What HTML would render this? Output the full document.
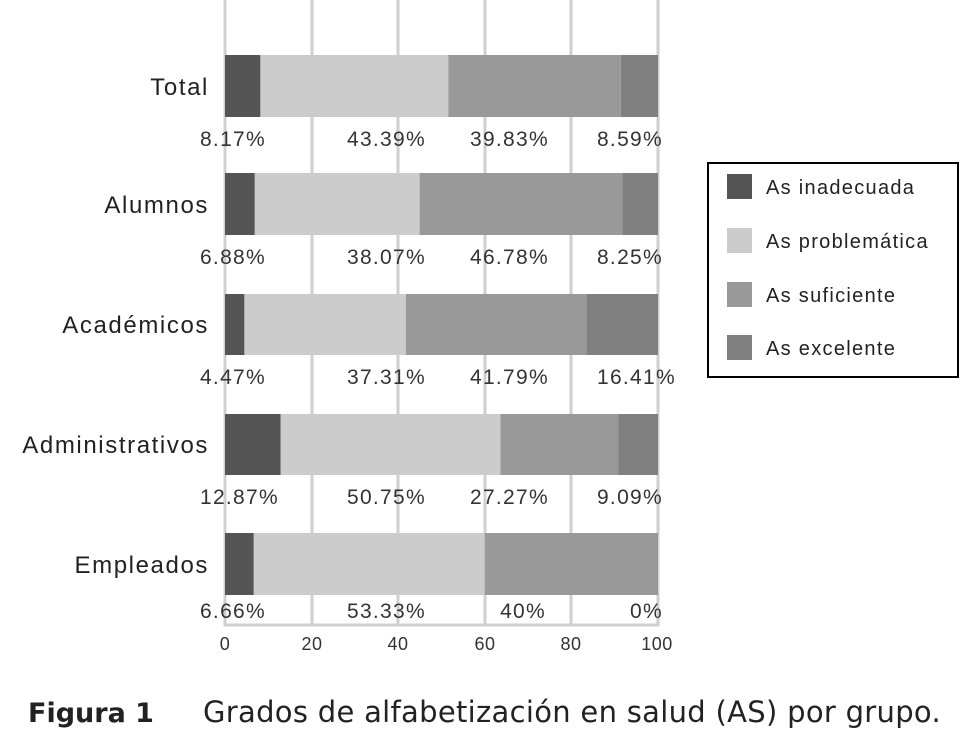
<!DOCTYPE html>
<html><head><meta charset="utf-8"><style>body{margin:0;background:#fff}svg{display:block}</style></head>
<body>
<svg width="971" height="746" xmlns="http://www.w3.org/2000/svg" font-family="Liberation Sans, sans-serif">
<rect width="971" height="746" fill="#fff"/>
<g stroke="#cfcfcf" stroke-width="3">
<line x1="225" y1="0" x2="225" y2="626"/><line x1="312" y1="0" x2="312" y2="626"/><line x1="398" y1="0" x2="398" y2="626"/>
<line x1="485" y1="0" x2="485" y2="626"/><line x1="571" y1="0" x2="571" y2="626"/><line x1="658" y1="0" x2="658" y2="626"/>
<line x1="224" y1="625" x2="659" y2="625"/>
</g>
<g font-size="18" fill="#333" text-anchor="middle" letter-spacing="0.5">
<text x="225" y="650">0</text><text x="312" y="650">20</text><text x="398" y="650">40</text><text x="485" y="650">60</text><text x="571" y="650">80</text><text x="657" y="650">100</text>
</g>
<g>
<rect x="225" y="55" width="35.4" height="62" fill="#555"/><rect x="260.4" y="55" width="187.9" height="62" fill="#ccc"/><rect x="448.3" y="55" width="172.5" height="62" fill="#999"/><rect x="620.8" y="55" width="37.2" height="62" fill="#808080"/>
<rect x="225" y="173" width="29.8" height="62" fill="#555"/><rect x="254.8" y="173" width="164.8" height="62" fill="#ccc"/><rect x="419.6" y="173" width="202.6" height="62" fill="#999"/><rect x="622.2" y="173" width="35.8" height="62" fill="#808080"/>
<rect x="225" y="294" width="19.4" height="61" fill="#555"/><rect x="244.4" y="294" width="161.6" height="61" fill="#ccc"/><rect x="406" y="294" width="181" height="61" fill="#999"/><rect x="587" y="294" width="71" height="61" fill="#808080"/>
<rect x="225" y="414" width="55.7" height="61" fill="#555"/><rect x="280.7" y="414" width="219.7" height="61" fill="#ccc"/><rect x="500.4" y="414" width="118.1" height="61" fill="#999"/><rect x="618.5" y="414" width="39.5" height="61" fill="#808080"/>
<rect x="225" y="533" width="28.8" height="62" fill="#555"/><rect x="253.8" y="533" width="230.9" height="62" fill="#ccc"/><rect x="484.7" y="533" width="173.3" height="62" fill="#999"/>
</g>
<g font-size="24" fill="#222" text-anchor="end" letter-spacing="1.6">
<text x="209" y="95">Total</text><text x="209" y="213">Alumnos</text><text x="209" y="333">Académicos</text><text x="209" y="453">Administrativos</text><text x="209" y="573">Empleados</text>
</g>
<g font-size="21" fill="#333" text-anchor="end" letter-spacing="1.3">
<text x="266" y="146">8.17%</text><text x="426" y="146">43.39%</text><text x="549" y="146">39.83%</text><text x="663" y="146">8.59%</text>
<text x="266" y="264">6.88%</text><text x="426" y="264">38.07%</text><text x="549" y="264">46.78%</text><text x="663" y="264">8.25%</text>
<text x="266" y="384">4.47%</text><text x="426" y="384">37.31%</text><text x="549" y="384">41.79%</text><text x="676" y="384">16.41%</text>
<text x="279" y="504">12.87%</text><text x="426" y="504">50.75%</text><text x="549" y="504">27.27%</text><text x="663" y="504">9.09%</text>
<text x="266" y="618">6.66%</text><text x="426" y="618">53.33%</text><text x="546" y="618">40%</text><text x="663" y="618">0%</text>
</g>
<rect x="708" y="163" width="250" height="214" fill="#fff" stroke="#000" stroke-width="2"/>
<rect x="727" y="174" width="25" height="25" fill="#555"/><rect x="727" y="228" width="25" height="25" fill="#ccc"/>
<rect x="727" y="282" width="25" height="25" fill="#999"/><rect x="727" y="335" width="25" height="25" fill="#808080"/>
<g font-size="20" fill="#222" letter-spacing="1.3">
<text x="766" y="194">As inadecuada</text><text x="766" y="248">As problemática</text><text x="766" y="302">As suficiente</text><text x="766" y="355">As excelente</text>
</g>
<g font-family="DejaVu Sans, sans-serif" fill="#222">
<text x="28" y="722" font-size="27" font-weight="bold">Figura 1</text>
<text x="203" y="722" font-size="29" letter-spacing="0.3">Grados de alfabetización en salud (AS) por grupo.</text>
</g>
</svg>
</body></html>
